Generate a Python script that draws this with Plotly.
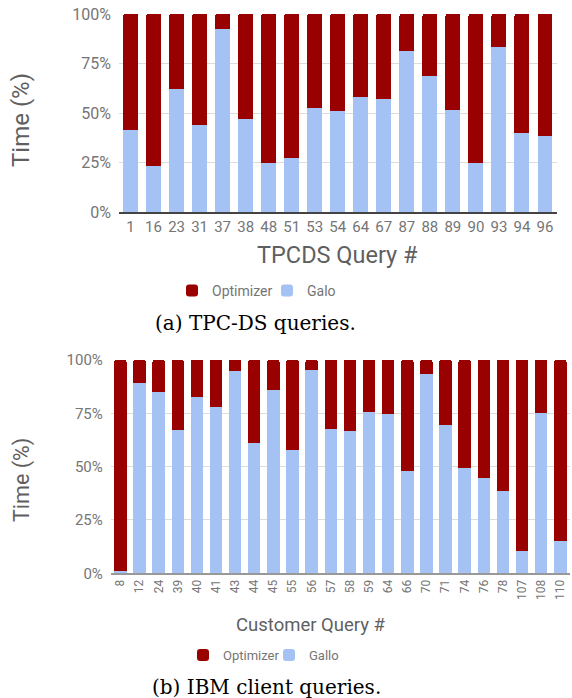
import plotly.graph_objects as go

W, H = 572, 698

# ---- data (a) TPC-DS ----
tpcds_queries = ["1", "16", "23", "31", "37", "38", "48", "51", "53", "54",
                 "64", "67", "87", "88", "89", "90", "93", "94", "96"]
tpcds_galo = [41.5, 23, 62, 44, 92.5, 47, 24.5, 27.5, 52.5, 51,
              58, 57, 81.5, 68.5, 51.5, 24.5, 83.5, 40, 38.5]
tpcds_optimizer = [58.5, 77, 38, 56, 7.5, 53, 75.5, 72.5, 47.5, 49,
                   42, 43, 18.5, 31.5, 48.5, 75.5, 16.5, 60, 61.5]

# ---- data (b) IBM client ----
client_queries = ["8", "12", "24", "39", "40", "41", "43", "44", "45", "55",
                  "56", "57", "58", "59", "64", "66", "70", "71", "74", "76",
                  "78", "107", "108", "110"]
client_gallo = [1, 89, 85, 67, 82.5, 78, 95, 61, 86, 58,
                95.5, 67.5, 66.5, 75.5, 74.5, 48, 93.5, 69.5, 49.5, 44.5,
                38.5, 10.5, 75, 15]
client_optimizer = [99, 11, 15, 33, 17.5, 22, 5, 39, 14, 42,
                    4.5, 32.5, 33.5, 24.5, 25.5, 52, 6.5, 30.5, 50.5, 55.5,
                    61.5, 89.5, 25, 85]

y_ticks = [0, 25, 50, 75, 100]
y_tick_labels = ["0%", "25%", "50%", "75%", "100%"]

RED = "#990000"
BLUE = "#a4c2f4"
TICK = "#757575"
TITLE = "#5f5f5f"
FONT = "Roboto"


def px_x(v):
    return v / W


def px_y(v):
    return 1 - v / H


fig = go.Figure()

fig.add_trace(go.Bar(x=tpcds_queries, y=tpcds_galo, name="Galo",
                     marker=dict(color=BLUE, line=dict(width=0)),
                     xaxis="x", yaxis="y", legend="legend"))
fig.add_trace(go.Bar(x=tpcds_queries, y=tpcds_optimizer, name="Optimizer",
                     marker=dict(color=RED, line=dict(width=0)),
                     xaxis="x", yaxis="y", legend="legend"))
fig.add_trace(go.Bar(x=client_queries, y=client_gallo, name="Gallo",
                     marker=dict(color=BLUE, line=dict(width=0)),
                     xaxis="x2", yaxis="y2", legend="legend2"))
fig.add_trace(go.Bar(x=client_queries, y=client_optimizer, name="Optimizer",
                     marker=dict(color=RED, line=dict(width=0)),
                     xaxis="x2", yaxis="y2", legend="legend2"))

common_y = dict(range=[0, 100], tickvals=y_ticks, ticktext=y_tick_labels,
                showgrid=True, gridcolor="#dcdcdc", gridwidth=1,
                zeroline=False, showline=False, ticks="",
                ticklabelstandoff=7,
                automargin=False, fixedrange=True)

fig.update_layout(
    width=W, height=H,
    margin=dict(l=0, r=0, t=0, b=0, autoexpand=False),
    paper_bgcolor="white", plot_bgcolor="white",
    barmode="stack", bargap=0.35,
    barcornerradius=2,
    font=dict(family=FONT, color=TICK),
    xaxis=dict(domain=[px_x(119), px_x(556.5)], anchor="y", type="category",
               showline=True, linecolor="#444444", linewidth=1.5,
               ticks="", tickfont=dict(size=15, color=TICK),
               showgrid=False, automargin=False),
    yaxis=dict(domain=[px_y(212), px_y(14)], anchor="x",
               tickfont=dict(size=16, color=TICK), **common_y),
    xaxis2=dict(domain=[px_x(110.8), px_x(569.9)], anchor="y2", type="category",
                showline=True, linecolor="#999999", linewidth=1.5,
                ticks="", tickangle=-90, tickfont=dict(size=12, color=TICK),
                showgrid=False, automargin=False),
    yaxis2=dict(domain=[px_y(573.3), px_y(360)], anchor="x2",
                tickfont=dict(size=15, color=TICK), **common_y),
    legend=dict(orientation="h", x=px_x(172), y=px_y(291),
                xanchor="left", yanchor="middle", itemwidth=30,
                entrywidth=50, entrywidthmode="pixels",
                traceorder="reversed", font=dict(size=14, color=TICK),
                bgcolor="rgba(0,0,0,0)"),
    legend2=dict(orientation="h", x=px_x(183), y=px_y(655),
                 xanchor="left", yanchor="middle", itemwidth=30,
                 entrywidth=41, entrywidthmode="pixels",
                 traceorder="reversed", font=dict(size=13, color=TICK),
                 bgcolor="rgba(0,0,0,0)"),
)

annotations = [
    dict(text="Time (%)", x=px_x(21), y=px_y(120), textangle=-90,
         font=dict(size=24, color=TITLE, family=FONT)),
    dict(text="TPCDS Query #", x=px_x(337), y=px_y(255),
         font=dict(size=23.5, color=TITLE, family=FONT)),
    dict(text="(a) TPC-DS queries.", x=px_x(255), y=px_y(323),
         font=dict(size=20, color="black", family="DejaVu Serif")),
    dict(text="Time (%)", x=px_x(22), y=px_y(480), textangle=-90,
         font=dict(size=21.5, color=TITLE, family=FONT)),
    dict(text="Customer Query #", x=px_x(311), y=px_y(625),
         font=dict(size=18.5, color=TITLE, family=FONT)),
    dict(text="(b) IBM client queries.", x=px_x(266), y=px_y(687),
         font=dict(size=20, color="black", family="DejaVu Serif")),
]
for a in annotations:
    a.update(xref="paper", yref="paper", showarrow=False,
             xanchor="center", yanchor="middle")
fig.update_layout(annotations=annotations)

fig.write_html(
    "out.html",
    config={"displayModeBar": False},
    post_script="document.body.style.margin='0';"
                "document.body.style.overflow='hidden';",
)
